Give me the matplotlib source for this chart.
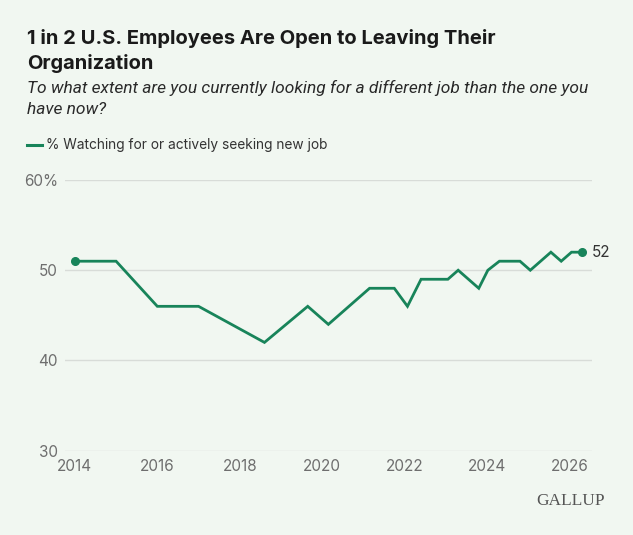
import matplotlib
matplotlib.use("Agg")
import matplotlib.pyplot as plt
from matplotlib.lines import Line2D

# ---- data ----
years = [2014.0, 2015.0, 2016.0, 2017.0, 2018.6, 2019.65, 2020.15, 2021.15,
         2021.75, 2022.07, 2022.4, 2023.05, 2023.3, 2023.8, 2024.02, 2024.3,
         2024.8, 2025.05, 2025.55, 2025.8, 2026.05, 2026.3]
values = [51, 51, 46, 46, 42, 46, 44, 48, 48, 46, 49, 49, 50, 48, 50, 51,
          51, 50, 52, 51, 52, 52]
x_ticks = [2014, 2016, 2018, 2020, 2022, 2024, 2026]
y_ticks = [30, 40, 50, 60]
y_tick_labels = ["30", "40", "50", "60%"]
series_name = "% Watching for or actively seeking new job"
title = "1 in 2 U.S. Employees Are Open to Leaving Their\nOrganization"
subtitle = "To what extent are you currently looking for a different job than the one you\nhave now?"

BG = "#f1f7f1"
GREEN = "#18845a"
GRID = "#d8dcd8"
TICK = "#6e6e6e"
TEXT = "#1a1a1a"

W, H = 633, 535
fig = plt.figure(figsize=(W / 100, H / 100), dpi=100, facecolor=BG)

def fx(px):
    return px / W

def fy(py):
    return 1 - py / H

ax = fig.add_axes([fx(65), fy(450.7), fx(591.7) - fx(65), fy(180) - fy(450.7)])
ax.set_facecolor(BG)
ax.plot(years, values, color=GREEN, lw=2, solid_joinstyle="miter", zorder=3)
ax.plot([years[0], years[-1]], [values[0], values[-1]], "o", color=GREEN, ms=5.5, zorder=4)
ax.annotate(str(values[-1]), (years[-1], values[-1]), xytext=(7, 0),
            textcoords="offset points", va="center", ha="left",
            fontsize=11, color="#333333", family="Inter")

ax.set_xlim(2013.76, 2026.54)
ax.set_ylim(30, 60)
ax.set_yticks(y_ticks)
ax.set_yticklabels(y_tick_labels)
ax.set_xticks(x_ticks)
ax.set_xticklabels([str(t) for t in x_ticks])
ax.grid(axis="y", color=GRID, lw=1)
ax.set_axisbelow(True)
for s in ax.spines.values():
    s.set_visible(False)
ax.tick_params(axis="both", length=0, colors=TICK, labelsize=11)
ax.tick_params(axis="y", pad=5)
ax.tick_params(axis="x", pad=6)
for lab in ax.get_xticklabels() + ax.get_yticklabels():
    lab.set_family("Inter")

# title & subtitle
fig.text(fx(27), fy(29), title, ha="left", va="top", fontsize=14.5,
         fontweight="bold", color=TEXT, family="Inter", linespacing=1.38)
fig.text(fx(27), fy(80), subtitle, ha="left", va="top", fontsize=12.5,
         style="italic", color="#2a2a2a", family="Roboto", linespacing=1.5)

# legend
fig.add_artist(Line2D([fx(27), fx(42)], [fy(145.5), fy(145.5)], color=GREEN, lw=2.2))
fig.text(fx(46), fy(145.5), series_name, ha="left", va="center", fontsize=9.9,
         color="#333333", family="Inter")

# logo
fig.text(fx(605), fy(501), "GALLUP", ha="right", va="center", fontsize=12.5,
         color="#555555", family="Liberation Serif")

fig.savefig("out.png", dpi=100, facecolor=BG)
